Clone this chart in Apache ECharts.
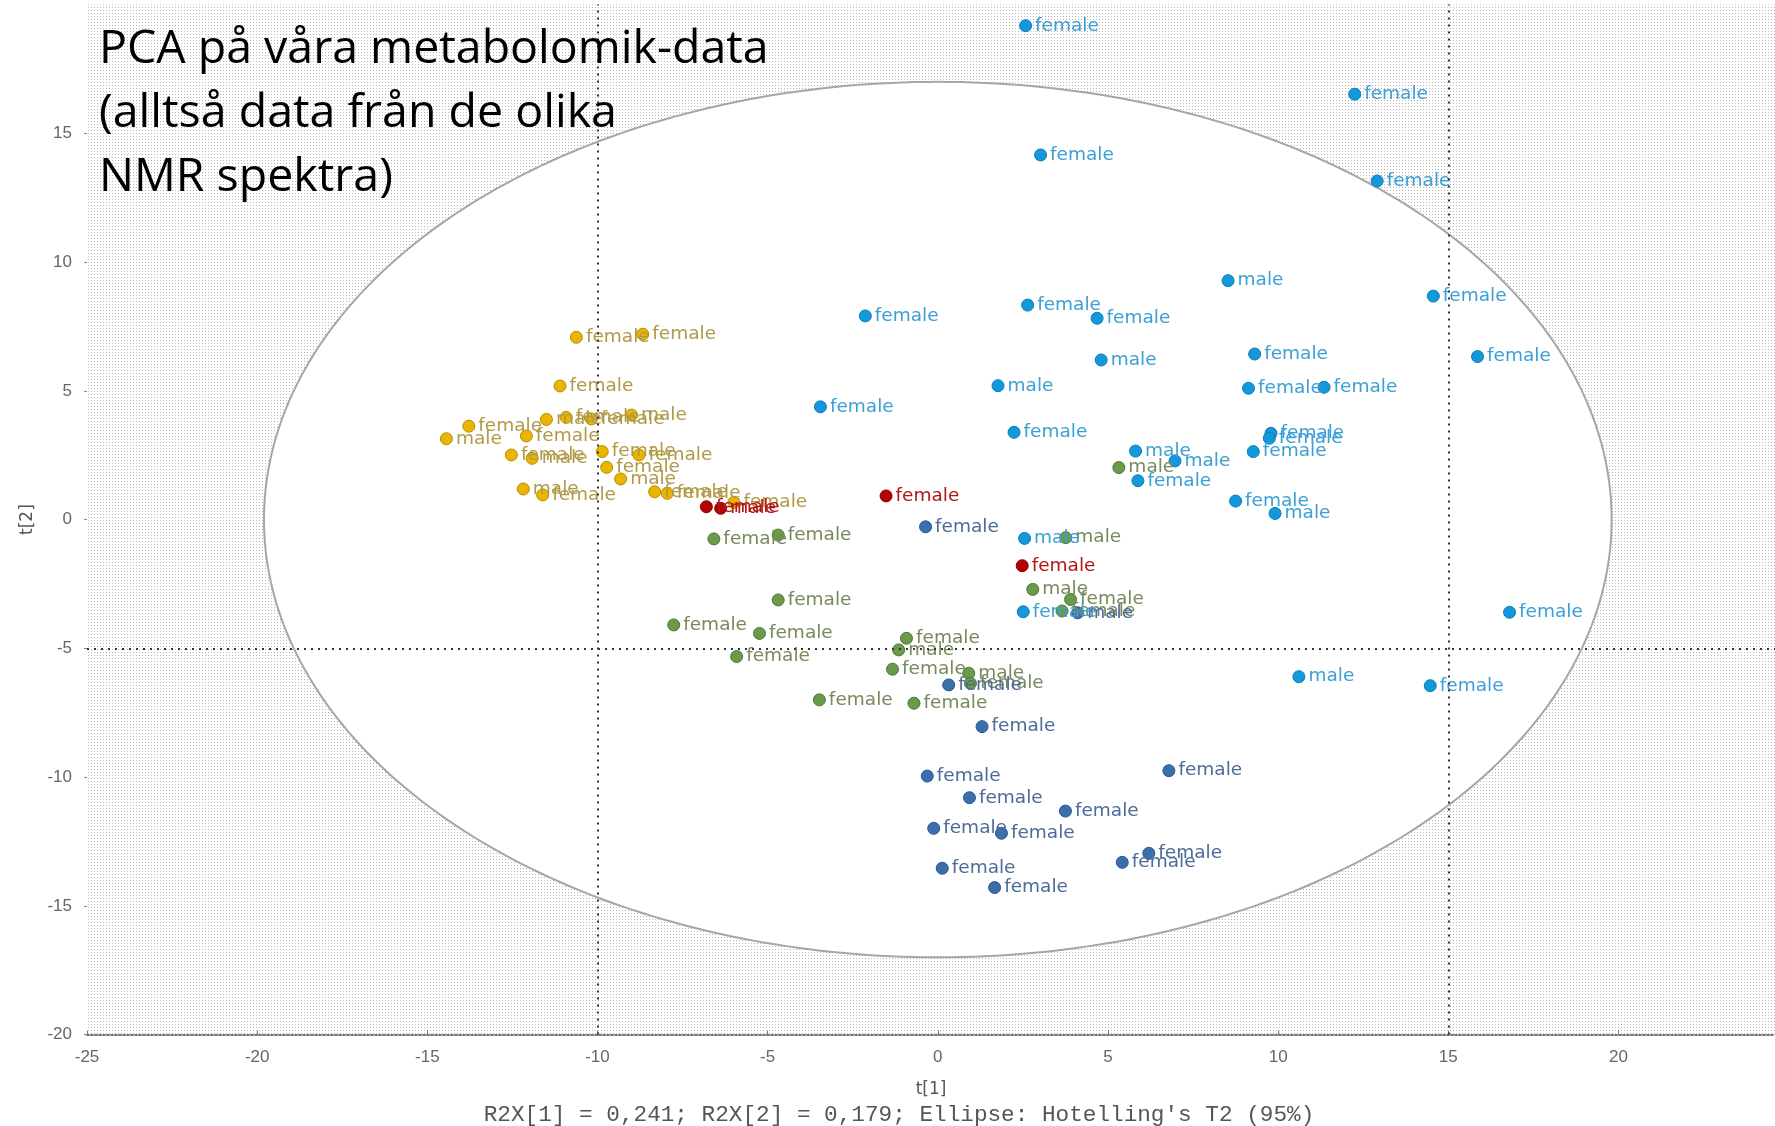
<!DOCTYPE html>
<html>
<head>
<meta charset="utf-8">
<title>PCA scores t[1] / t[2]</title>
<script src="https://cdn.jsdelivr.net/npm/echarts@6/dist/echarts.min.js"></script>
<style>
  html, body { margin: 0; padding: 0; background: #ffffff; }
  #chart { width: 1775px; height: 1126px; }
</style>
</head>
<body>
<div id="chart"></div>
<script>
// Score values per class: [t1, t2, label]
const goldScores = [
  [-10.62, 7.08, 'female'], [-8.67, 7.20, 'female'], [-11.10, 5.19, 'female'],
  [-13.78, 3.63, 'female'], [-14.44, 3.14, 'male'], [-11.50, 3.89, 'male'],
  [-10.92, 3.97, 'female'], [-10.18, 3.91, 'female'], [-9.00, 4.06, 'male'],
  [-12.09, 3.25, 'female'], [-12.53, 2.51, 'female'], [-11.92, 2.38, 'male'],
  [-9.86, 2.64, 'female'], [-8.78, 2.51, 'female'], [-9.73, 2.03, 'female'],
  [-9.32, 1.58, 'male'], [-12.18, 1.19, 'male'], [-11.61, 0.96, 'female'],
  [-8.32, 1.08, 'female'], [-7.95, 1.02, 'female'], [-5.99, 0.67, 'female']
];
const redScores = [
  [-6.80, 0.50, 'female'], [-6.38, 0.44, 'male'], [-1.52, 0.92, 'female'], [2.48, -1.79, 'female']
];
const greenScores = [
  [-6.58, -0.75, 'female'], [-4.69, -0.60, 'female'], [5.32, 2.02, 'male'],
  [3.76, -0.70, 'male'], [2.79, -2.71, 'male'], [3.90, -3.10, 'female'],
  [3.65, -3.55, 'female'], [-4.69, -3.12, 'female'], [-7.76, -4.09, 'female'],
  [-5.24, -4.42, 'female'], [-5.91, -5.32, 'female'], [-0.92, -4.61, 'female'],
  [-1.15, -5.06, 'male'], [-1.33, -5.81, 'female'], [0.91, -5.97, 'male'],
  [0.96, -6.36, 'female'], [-3.48, -7.00, 'female'], [-0.70, -7.13, 'female']
];
const navyScores = [
  [-0.36, -0.28, 'female'], [4.11, -3.62, 'male'], [0.32, -6.42, 'female'],
  [1.30, -8.04, 'female'], [-0.31, -9.96, 'female'], [6.79, -9.75, 'female'],
  [0.93, -10.80, 'female'], [3.75, -11.32, 'female'], [-0.12, -11.99, 'female'],
  [1.87, -12.18, 'female'], [6.20, -12.96, 'female'], [5.42, -13.31, 'female'],
  [0.13, -13.54, 'female'], [1.67, -14.29, 'female']
];
const skyScores = [
  [2.58, 19.18, 'female'], [12.25, 16.52, 'female'], [3.02, 14.16, 'female'],
  [12.91, 13.15, 'female'], [8.53, 9.28, 'male'], [14.56, 8.68, 'female'],
  [-2.13, 7.91, 'female'], [2.64, 8.33, 'female'], [4.68, 7.82, 'female'],
  [15.86, 6.33, 'female'], [4.80, 6.20, 'male'], [9.31, 6.43, 'female'],
  [1.77, 5.20, 'male'], [9.13, 5.10, 'female'], [11.35, 5.14, 'female'],
  [-3.45, 4.38, 'female'], [2.24, 3.39, 'female'], [9.79, 3.35, 'female'],
  [9.74, 3.16, 'female'], [9.27, 2.64, 'female'], [5.81, 2.66, 'male'],
  [6.97, 2.28, 'male'], [5.88, 1.51, 'female'], [8.75, 0.72, 'female'],
  [9.91, 0.24, 'male'], [2.55, -0.73, 'male'], [2.51, -3.58, 'female'],
  [16.80, -3.60, 'female'], [10.61, -6.10, 'male'], [14.47, -6.45, 'female']
];

// Hotelling's T2 (95%) ellipse semi-axes, centred at the origin
const ellipseCenter = [0, 0];
const ellipseRadii = [19.8, 17.0];

// Reference lines
const verticalRefs = [-10, 15];
const horizontalRefs = [-5];

// Tick ranges
const xTicks = { min: -25, max: 24.6, interval: 5 };
const yTicks = { min: -20, max: 20, interval: 5 };

// Dotted halftone texture for the plot background
function makeTexture() {
  const c = document.createElement('canvas');
  c.width = 3; c.height = 3;
  const g = c.getContext('2d');
  g.fillStyle = '#ffffff';
  g.fillRect(0, 0, 3, 3);
  g.fillStyle = '#b6b6b6';
  g.fillRect(1, 1, 1, 1);
  return c;
}

const labelFont = '"DejaVu Sans", Verdana, sans-serif';

function scoreSeries(name, data, fill, border, textColor) {
  return {
    name: name,
    type: 'scatter',
    z: 3,
    data: data,
    symbol: 'circle',
    symbolSize: 12,
    itemStyle: { color: fill, borderColor: border, borderWidth: 1, opacity: 1 },
    label: {
      show: true,
      position: 'right',
      distance: 3,
      formatter: p => p.data[2],
      color: textColor,
      fontFamily: labelFont,
      fontSize: 18.5
    },
    emphasis: { disabled: true }
  };
}

const chart = echarts.init(document.getElementById('chart'), null, { renderer: 'canvas' });

const option = {
  animation: false,
  backgroundColor: '#ffffff',
  grid: {
    left: 87, right: 0, top: 4.6, bottom: 91.4,
    show: true,
    borderWidth: 0,
    backgroundColor: { image: makeTexture(), repeat: 'repeat' }
  },
  xAxis: {
    type: 'value',
    min: xTicks.min, max: xTicks.max, interval: xTicks.interval,
    name: 't[1]',
    nameLocation: 'middle',
    nameGap: 46,
    nameTextStyle: { color: '#555', fontFamily: labelFont, fontSize: 17 },
    splitLine: { show: false },
    axisLine: { show: true, onZero: false, lineStyle: { color: '#777', width: 2, type: [2, 2] } },
    axisTick: { show: true, inside: true, length: 4, lineStyle: { color: '#777' } },
    axisLabel: {
      showMaxLabel: false,
      margin: 14,
      color: '#666',
      fontFamily: '"Liberation Sans", Arial, sans-serif',
      fontSize: 17
    }
  },
  yAxis: {
    type: 'value',
    min: yTicks.min, max: yTicks.max, interval: yTicks.interval,
    name: 't[2]',
    nameLocation: 'middle',
    nameRotate: 90,
    nameGap: 44,
    nameTextStyle: { color: '#555', fontFamily: labelFont, fontSize: 17 },
    splitLine: { show: false },
    axisLine: { show: false, onZero: false },
    axisTick: { show: true, length: 3, lineStyle: { color: '#888' } },
    axisLabel: {
      showMaxLabel: false,
      margin: 15,
      color: '#666',
      fontFamily: '"Liberation Sans", Arial, sans-serif',
      fontSize: 17
    }
  },
  graphic: [
    {
      type: 'text',
      left: 99,
      top: 18,
      z: 100,
      style: {
        text: 'PCA på våra metabolomik-data\n(alltså data från de olika\nNMR spektra)',
        fontFamily: '"Open Sans", "Noto Sans", sans-serif',
        fontSize: 46.5,
        lineHeight: 64,
        fill: '#000000'
      }
    },
    {
      type: 'text',
      x: 899,
      y: 1115,
      style: {
        text: "R2X[1] = 0,241; R2X[2] = 0,179; Ellipse: Hotelling's T2 (95%)",
        fontFamily: '"Liberation Mono", "DejaVu Sans Mono", monospace',
        fontSize: 22.7,
        fill: '#555',
        align: 'center',
        verticalAlign: 'middle'
      }
    }
  ],
  series: [
    {
      name: 'T2 ellipse',
      type: 'custom',
      z: 1,
      silent: true,
      clip: false,
      data: [ellipseCenter.concat(ellipseRadii)],
      encode: { x: 0, y: 1 },
      renderItem: function (params, api) {
        const cx = api.value(0), cy = api.value(1);
        const rx = api.value(2), ry = api.value(3);
        const pts = [];
        for (let i = 0; i < 360; i++) {
          const a = i * Math.PI / 180;
          pts.push(api.coord([cx + rx * Math.cos(a), cy + ry * Math.sin(a)]));
        }
        return {
          type: 'polygon',
          shape: { points: pts },
          style: { fill: '#ffffff', stroke: '#a6a6a6', lineWidth: 2 }
        };
      }
    },
    {
      name: 'Referenslinjer',
      type: 'scatter',
      z: 2,
      data: [],
      silent: true,
      markLine: {
        silent: true,
        symbol: ['none', 'none'],
        label: { show: false },
        lineStyle: { color: '#333', width: 2, type: [2, 5] },
        data: verticalRefs.map(v => ({ xAxis: v })).concat(horizontalRefs.map(v => ({ yAxis: v })))
      }
    },
    scoreSeries('Klass 1', goldScores, '#eab500', '#b88d00', '#b09a48'),
    scoreSeries('Klass 2', greenScores, '#6b9a4a', '#4d7834', '#788a5c'),
    scoreSeries('Klass 3', navyScores, '#3b6fab', '#2a5590', '#4d6c98'),
    scoreSeries('Klass 4', skyScores, '#1399db', '#0a7cbc', '#3c9fd6'),
    scoreSeries('Klass 5', redScores, '#b30000', '#8a0000', '#b01818')
  ]
};

chart.setOption(option);
</script>
</body>
</html>
